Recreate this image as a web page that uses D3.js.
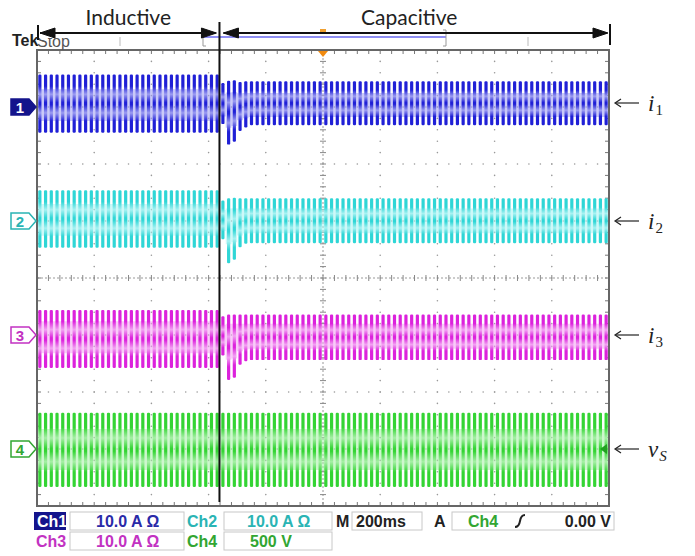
<!DOCTYPE html>
<html>
<head>
<meta charset="utf-8">
<script src="https://cdn.jsdelivr.net/npm/d3@7"></script>
<style>
  body { margin: 0; background: #fff; }
  svg { display: block; }
</style>
</head>
<body>
<svg id="chart" width="695" height="556"></svg>
<script>
// ---- data ----
const channelNames = ['Ch1', 'Ch2', 'Ch3', 'Ch4'];
const traceLabels = ['i', 'i', 'i', 'v'];
const traceSubs = ['1', '2', '3', 'S'];
const unitsPerDiv = [10, 10, 10, 500];          // A/div, A/div, A/div, V/div
const offsetDiv = [3, 1, -1, -3];               // ground marker, divisions above centre
const inductiveMax = [5.7, 5.4, 4.4, 318];      // peak per cycle before switching
const inductiveMin = [-4.5, -4.7, -5.8, -333];
const capacitiveMax = [4.5, 4.0, 3.6, 318];     // peak per cycle after switching
const capacitiveMin = [-3.2, -3.9, -4.4, -333];
// first cycles after the switch [max, min]
const transientCycles = [
  [[4.2, -3.0], [4.6, -6.6], [4.7, -6.1], [4.4, -4.2], [4.5, -3.6]],
  [[3.6, -3.2], [4.0, -7.4], [4.1, -6.8], [4.0, -4.6], [4.0, -4.0]],
  [[3.3, -3.6], [3.6, -7.9], [3.6, -7.5], [3.6, -5.2], [3.6, -4.6]],
  []
];
const lineFreq = 50;          // Hz
const timePerDiv = 0.2;       // s (M 200ms)
const divX = 10, divY = 8;
const switchTime = 0.638;     // s, inductive -> capacitive

const statusRow1 = ['Ch1', '10.0 A \u03A9', 'Ch2', '10.0 A \u03A9', 'M', '200ms', 'A', 'Ch4', '0.00 V'];
const statusRow2 = ['Ch3', '10.0 A \u03A9', 'Ch4', '500 V'];
const regionNames = ['Inductive', 'Capacitive'];

// ---- colours / layout ----
const dark = ['#2020d6', '#2fd6d6', '#dc22dc', '#34d434'];
const light = ['#9c9cf2', '#a6f2f2', '#f3a2f3', '#a6f0a6'];
const textCol = ['#2a2aa8', '#2ab4b4', '#c232c2', '#32a632'];

const X0 = 37, X1 = 609, Y0 = 50, Y1 = 506;
const svg = d3.select('#chart');
const x = d3.scaleLinear().domain([0, divX * timePerDiv]).range([X0, X1]);
const yDiv = d3.scaleLinear().domain([-divY / 2, divY / 2]).range([Y1, Y0]);
const yCh = (c, v) => yDiv(offsetDiv[c] + v / unitsPerDiv[c]);
const subX = (X1 - X0) / divX / 5, subY = (Y1 - Y0) / divY / 5;

const defs = svg.append('defs');
dark.forEach((d, i) => {
  const g = defs.append('linearGradient').attr('id', 'g' + i)
    .attr('x1', 0).attr('y1', 0).attr('x2', 0).attr('y2', 1);
  [[0, d], [0.2, d], [0.34, light[i]], [0.48, d], [0.52, d], [0.66, light[i]], [0.8, d], [1, d]]
    .forEach(([o, c]) => g.append('stop').attr('offset', o).attr('stop-color', c));
});

// ---- graticule ----
const grid = svg.append('g');
for (let i = 1; i < divX; i++) {
  if (i === divX / 2) continue;
  for (let j = 0; j <= divY * 5; j++)
    grid.append('circle').attr('cx', X0 + i * subX * 5).attr('cy', Y0 + j * subY).attr('r', 0.8).attr('fill', '#999');
}
for (let j = 1; j < divY; j++) {
  if (j === divY / 2) continue;
  for (let i = 0; i <= divX * 5; i++)
    grid.append('circle').attr('cx', X0 + i * subX).attr('cy', Y0 + j * subY * 5).attr('r', 0.8).attr('fill', '#999');
}
const xc = x(divX * timePerDiv / 2), yc = yDiv(0);
grid.append('line').attr('x1', xc).attr('x2', xc).attr('y1', Y0).attr('y2', Y1).attr('stroke', '#999').attr('stroke-dasharray', '2 2');
grid.append('line').attr('x1', X0).attr('x2', X1).attr('y1', yc).attr('y2', yc).attr('stroke', '#999').attr('stroke-dasharray', '2 2');
for (let i = 0; i <= divX * 5; i++) {
  const px = X0 + i * subX;
  grid.append('line').attr('x1', px).attr('x2', px).attr('y1', yc - 3).attr('y2', yc + 3).attr('stroke', '#888');
  grid.append('line').attr('x1', px).attr('x2', px).attr('y1', Y0).attr('y2', Y0 + 4).attr('stroke', '#777');
  grid.append('line').attr('x1', px).attr('x2', px).attr('y1', Y1).attr('y2', Y1 - 4).attr('stroke', '#777');
}
for (let j = 0; j <= divY * 5; j++) {
  const py = Y0 + j * subY;
  grid.append('line').attr('y1', py).attr('y2', py).attr('x1', xc - 3).attr('x2', xc + 3).attr('stroke', '#888');
  grid.append('line').attr('y1', py).attr('y2', py).attr('x1', X0).attr('x2', X0 + 4).attr('stroke', '#777');
  grid.append('line').attr('y1', py).attr('y2', py).attr('x1', X1).attr('x2', X1 - 4).attr('stroke', '#777');
}

// ---- traces: one stroke per mains cycle ----
const nCycles = Math.round(divX * timePerDiv * lineFreq);
const switchCycle = Math.ceil(switchTime * lineFreq - 0.5);
channelNames.forEach((name, c) => {
  const cycles = d3.range(nCycles).map(k => {
    const t = (k + 0.5) / lineFreq;
    const after = k - switchCycle;
    let mx, mn;
    if (after < 0) { mx = inductiveMax[c]; mn = inductiveMin[c]; }
    else if (after < transientCycles[c].length) { [mx, mn] = transientCycles[c][after]; }
    else { mx = capacitiveMax[c]; mn = capacitiveMin[c]; }
    return { t, mx, mn };
  });
  const g = svg.append('g');
  g.append('path').datum(cycles)
    .attr('fill', light[c]).attr('opacity', 0.55)
    .attr('d', d3.area().x(d => x(d.t)).y0(d => yCh(c, d.mn * 0.55)).y1(d => yCh(c, d.mx * 0.55)).curve(d3.curveStep));
  g.selectAll('rect').data(cycles).join('rect')
    .attr('x', d => x(d.t) - 1.6).attr('width', 3.2)
    .attr('y', d => yCh(c, d.mx)).attr('height', d => yCh(c, d.mn) - yCh(c, d.mx))
    .attr('rx', 1.2)
    .attr('fill', `url(#g${c})`);
});

// trigger level marker on ch4
svg.append('path').attr('d', `M${X1 - 2},${yCh(3, 0) - 5}L${X1 - 9},${yCh(3, 0)}L${X1 - 2},${yCh(3, 0) + 5}Z`).attr('fill', '#22a022');

// frame
svg.append('rect').attr('x', X0).attr('y', Y0).attr('width', X1 - X0).attr('height', Y1 - Y0)
  .attr('fill', 'none').attr('stroke', '#666').attr('stroke-width', 2);

// ---- channel markers ----
channelNames.forEach((name, c) => {
  const cy = yCh(c, 0);
  svg.append('path')
    .attr('d', `M11,${cy - 8}L29,${cy - 8}L36,${cy}L29,${cy + 8}L11,${cy + 8}Z`)
    .attr('fill', c === 0 ? '#14148c' : '#fff')
    .attr('stroke', c === 0 ? '#14148c' : textCol[c]).attr('stroke-width', 1.5);
  svg.append('text').attr('x', 20).attr('y', cy + 5.5).attr('text-anchor', 'middle')
    .attr('font-family', 'Liberation Sans, Arial, sans-serif').attr('font-weight', 'bold').attr('font-size', 15)
    .attr('fill', c === 0 ? '#fff' : textCol[c]).text(name.slice(2));
  // right-hand labels
  const ay = cy - (c === 0 ? 4 : 0);
  svg.append('line').attr('x1', 616).attr('x2', 639).attr('y1', ay).attr('y2', ay).attr('stroke', '#222').attr('stroke-width', 1.2);
  svg.append('path').attr('d', `M621,${ay - 4}L615,${ay}L621,${ay + 4}`).attr('fill', 'none').attr('stroke', '#222').attr('stroke-width', 1.2);
  const t = svg.append('text').attr('x', 648).attr('y', ay + 8)
    .attr('font-family', 'Liberation Serif, Times New Roman, serif').attr('font-style', 'italic').attr('font-size', 23).attr('fill', '#222');
  t.append('tspan').text(traceLabels[c]);
  t.append('tspan').attr('font-size', 15).attr('dy', 4).attr('dx', 1)
    .attr('font-style', c === 3 ? 'italic' : 'normal').text(traceSubs[c]);
});

// ---- header: Tek Stop, record bar, annotations ----
svg.append('text').attr('x', 12).attr('y', 46).attr('font-family', 'Liberation Sans, Arial, sans-serif')
  .attr('font-weight', 'bold').attr('font-size', 16).attr('fill', '#222').text('Tek');
defs.append('clipPath').attr('id', 'stopclip').append('rect').attr('x', 30).attr('y', 38).attr('width', 80).attr('height', 12);
svg.append('text').attr('x', 37).attr('y', 47).attr('clip-path', 'url(#stopclip)')
  .attr('font-family', 'Liberation Sans, Arial, sans-serif').attr('font-size', 16).attr('fill', '#555').text('Stop');

svg.append('line').attr('x1', 203).attr('x2', 446).attr('y1', 37).attr('y2', 37).attr('stroke', '#6a6af0').attr('stroke-width', 1.5);
[203, 446].forEach(px => svg.append('path')
  .attr('d', `M${px + (px < 300 ? 3 : -3)},30L${px},30L${px},46L${px + (px < 300 ? 3 : -3)},46`)
  .attr('fill', 'none').attr('stroke', '#999'));
[120, 528].forEach(px => svg.append('line').attr('x1', px).attr('x2', px).attr('y1', 37).attr('y2', 46).attr('stroke', '#bbb'));
svg.append('rect').attr('x', xc - 3).attr('y', 29).attr('width', 6).attr('height', 4).attr('fill', '#f0a030');
svg.append('path').attr('d', `M${xc - 5},${Y0 + 1}L${xc + 5},${Y0 + 1}L${xc},${Y0 + 7}Z`).attr('fill', '#f08a10');

const xs = x(switchTime);
const arrowY = 33;
const head = (tip, dir) => `M${tip},${arrowY}L${tip - dir * 15},${arrowY - 5}L${tip - dir * 15},${arrowY + 5}Z`;
const ann = svg.append('g').attr('fill', '#111').attr('stroke', '#111');
ann.append('line').attr('x1', X0 + 3).attr('x2', xs - 4).attr('y1', arrowY).attr('y2', arrowY).attr('stroke-width', 2);
ann.append('line').attr('x1', xs + 4).attr('x2', X1 - 2).attr('y1', arrowY).attr('y2', arrowY).attr('stroke-width', 2);
ann.append('path').attr('d', head(X0 + 3, -1));
ann.append('path').attr('d', head(xs - 3, 1));
ann.append('path').attr('d', head(xs + 4, -1));
ann.append('path').attr('d', head(X1 - 1, 1));
ann.append('line').attr('x1', X0 + 1).attr('x2', X0 + 1).attr('y1', 25).attr('y2', 40).attr('stroke-width', 2);
ann.append('line').attr('x1', X1 + 1).attr('x2', X1 + 1).attr('y1', 24).attr('y2', 45).attr('stroke-width', 2);
ann.append('line').attr('x1', xs).attr('x2', xs).attr('y1', 22).attr('y2', 502).attr('stroke-width', 2);
[[regionNames[0], (X0 + xs) / 2], [regionNames[1], (xs + X1) / 2 - 5]].forEach(([txt, cx]) =>
  svg.append('text').attr('x', cx).attr('y', 25).attr('text-anchor', 'middle')
    .attr('font-family', 'Lato, Open Sans, sans-serif').attr('font-size', 21).attr('fill', '#222').text(txt));

// ---- status bar ----
const sb = svg.append('g').attr('font-family', 'Liberation Sans Narrow, Arial Narrow, Liberation Sans, sans-serif')
  .attr('font-size', 16).attr('font-weight', 'bold');
const box = (x0, x1, y0) => sb.append('rect').attr('x', x0).attr('y', y0).attr('width', x1 - x0).attr('height', 18)
  .attr('fill', '#fff').attr('stroke', '#c8c8c8');
const txt = (s, px, py, col, anchor = 'start') => sb.append('text').attr('x', px).attr('y', py)
  .attr('text-anchor', anchor).attr('fill', col).text(s);
const r1 = 512, r2 = 532;
sb.append('rect').attr('x', 34).attr('y', r1).attr('width', 32).attr('height', 18).attr('fill', '#14148c');
txt(statusRow1[0], 37, r1 + 15, '#fff');
box(70, 184, r1); txt(statusRow1[1], 96, r1 + 15, textCol[0]);
txt(statusRow1[2], 187, r1 + 15, textCol[1]);
box(224, 332, r1); txt(statusRow1[3], 247, r1 + 15, textCol[1]);
txt(statusRow1[4], 336, r1 + 15, '#222');
box(352, 422, r1); txt(statusRow1[5], 356, r1 + 15, '#222');
txt(statusRow1[6], 434, r1 + 15, '#222');
box(452, 614, r1); txt(statusRow1[7], 468, r1 + 15, textCol[3]);
sb.append('path').attr('d', `M515,${r1 + 15}Q519,${r1 + 15} 520,${r1 + 9}Q521,${r1 + 3} 525,${r1 + 3}`)
  .attr('fill', 'none').attr('stroke', '#222').attr('stroke-width', 2);
txt(statusRow1[8], 611, r1 + 15, '#222', 'end');
txt(statusRow2[0], 36, r2 + 15, textCol[2]);
box(70, 184, r2); txt(statusRow2[1], 96, r2 + 15, textCol[2]);
txt(statusRow2[2], 187, r2 + 15, textCol[3]);
box(224, 332, r2); txt(statusRow2[3], 250, r2 + 15, textCol[3]);
</script>
</body>
</html>
